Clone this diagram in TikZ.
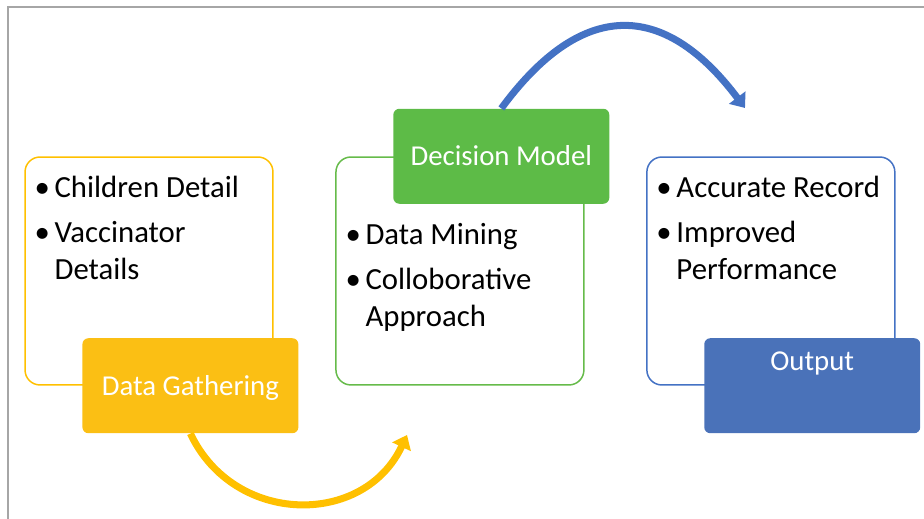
\documentclass[tikz,border=0pt]{standalone}
\usepackage{fontspec}
\setmainfont{Carlito}
\usepackage{tikz}
\usetikzlibrary{positioning}
\usetikzlibrary{arrows.meta}

\definecolor{goldline}{HTML}{FFC000}
\definecolor{goldfill}{HTML}{FBBF14}
\definecolor{greenline}{HTML}{66BB4A}
\definecolor{greenfill}{HTML}{5DBB47}
\definecolor{blueline}{HTML}{4472C4}
\definecolor{bluefill}{HTML}{4A72B9}
\definecolor{framegray}{HTML}{A6A6A6}

\begin{document}
\begin{tikzpicture}
    [x=0.02cm, y=-0.02cm,
      node distance = 1.23cm,
      box/.style={rectangle, rounded corners=0.3cm, draw=#1, line width=0.85pt, minimum width=4.96cm, minimum height=4.56cm, inner sep=0pt},
      tag/.style={rectangle, rounded corners=0.12cm, fill=#1, text=white, font=\fontsize{16.4}{19}\selectfont, minimum width=4.32cm, inner xsep=0pt, inner ysep=0pt, text height=1.14cm, text depth=0.76cm},
      items/.style={anchor=base west, inner sep=0pt, font=\fontsize{17.5}{21.3}\selectfont},
      darc/.style={-{Triangle[length=0.26cm, width=0.4cm]}, line width=4pt, draw=#1}]

    \useasboundingbox (0,0) rectangle (924,519);
    \draw[framegray, line width=0.85pt] (8,519) -- (8,7) -- (924,7);

    \node (outY) at (149,271) [box=goldline] {};
    \node (outG) [right=of outY] [box=greenline] {};
    \node (outB) [right=of outG] [box=blueline] {};

    \node (txtY) at ([shift={(0.2cm,-0.82cm)}]outY.north west) [items] {\begin{tabular}[t]{@{}p{0.4cm}@{}l@{}}
      • & Children Detail\\[0.15cm]
      • & Vaccinator\\
        & Details
    \end{tabular}};
    \node (txtG) at ([shift={(0.2cm,-1.76cm)}]outG.north west) [items] {\begin{tabular}[t]{@{}p{0.4cm}@{}l@{}}
      • & Data Mining\\[0.15cm]
      • & Colloborative\\
        & Approach
    \end{tabular}};
    \node (txtB) at ([shift={(0.2cm,-0.82cm)}]outB.north west) [items] {\begin{tabular}[t]{@{}p{0.4cm}@{}l@{}}
      • & Accurate Record\\[0.15cm]
      • & Improved\\
        & Performance
    \end{tabular}};

    \node (gather) at ([xshift=0.5cm]outY.south east) [tag=goldfill, anchor=east] {Data Gathering};
    \node (decide) at ([xshift=0.5cm]outG.north east) [tag=greenfill, anchor=east] {Decision Model};
    \node (output) at ([xshift=0.5cm]outB.south east) [tag=bluefill, anchor=east, text height=0.64cm, text depth=1.26cm] {Output};

    \coordinate (endY) at (407,435);
    \coordinate (endB) at (745,108);
    \draw[darc=goldline] (gather.south) .. controls (234,526) and (364,527) .. (endY);
    \draw[darc=blueline] (decide.north) .. controls (581,0) and (663,-1) .. (endB);
  \end{tikzpicture}
\end{document}
